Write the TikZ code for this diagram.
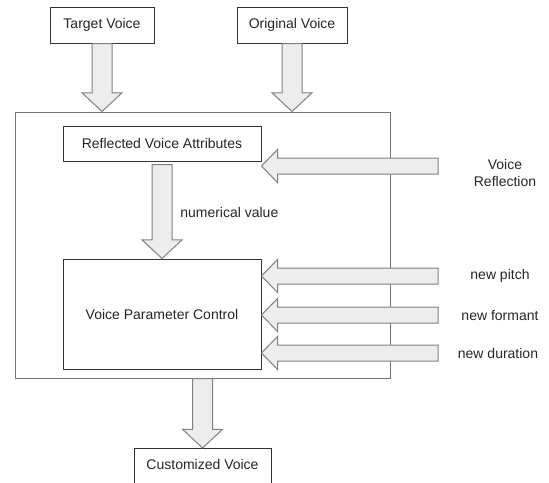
\documentclass[tikz,border=0pt]{standalone}
\usepackage{fontspec}
\setmainfont{Liberation Sans}
\usetikzlibrary{calc}

% block arrows: vertical (shaft 7.5pt, head 15pt, head length 14pt)
\newcommand\blockdown[2]{%
  \draw[blk] let \p1=(#1), \p2=(#2) in
    (\x1-7.5pt,\y1) -- (\x1-7.5pt,\y2+14pt) -- (\x1-15pt,\y2+14pt) -- (\x1,\y2)
    -- (\x1+15pt,\y2+14pt) -- (\x1+7.5pt,\y2+14pt) -- (\x1+7.5pt,\y1) -- cycle;}
% horizontal, pointing left (shaft 6pt, head 12.4pt, head length 12pt)
\newcommand\blockleft[2]{%
  \draw[blk] let \p1=(#1), \p2=(#2) in
    (\x1,\y1+6pt) -- (\x2+12pt,\y1+6pt) -- (\x2+12pt,\y1+12.4pt) -- (\x2,\y1)
    -- (\x2+12pt,\y1-12.4pt) -- (\x2+12pt,\y1-6pt) -- (\x1,\y1-6pt) -- cycle;}

\begin{document}
\begin{tikzpicture}[x=0.75pt,y=-0.75pt,
  box/.style={draw=black!80, line width=0.75pt, inner sep=0pt, align=center},
  blk/.style={draw=black!50, fill=black!7, line width=0.75pt, line join=miter},
  lbl/.style={inner sep=0pt, align=center},
  every node/.style={font=\fontsize{10.5}{13}\selectfont, text=black!85}]
\useasboundingbox (0,0) rectangle (549,482);
\clip (0,0) rectangle (549,482);
\fill[white] (0,0) rectangle (549,482);

% outer frame
\node[draw=black!55, line width=0.75pt, minimum width=281.25pt, minimum height=199.5pt,
      inner sep=0pt] (outer) at (202.5,245) {};

% boxes
\node[box, minimum width=78pt, minimum height=27pt] (tv) at (102,25) {Target Voice};
\node[box, minimum width=82.5pt, minimum height=27pt] (ov) at (292,25) {Original Voice};
\node[box, minimum width=148.5pt, minimum height=26.25pt] (rva) at (162,143.5) {Reflected Voice Attributes};
\node[box, minimum width=148.5pt, minimum height=82.5pt] (vpc) at (162,314) {Voice Parameter Control};
\node[box, anchor=north, minimum width=102.75pt, text height=15.5pt, text depth=20pt]
  (cv) at (202.5,448) {Customized Voice};

% side labels
\node[lbl] (vrl) at (505,173) {Voice\\Reflection};
\node[lbl] (npl) at (500,276) {new pitch};
\node[lbl] (nfl) at (500,315) {new formant};
\node[lbl] (ndl) at (498,353) {new duration};
\node[lbl, anchor=west] (nv) at (180,212) {numerical value};

% free ends of the side arrows
\coordinate (vrs) at (438,166);
\coordinate (nps) at (438,276);
\coordinate (nfs) at (438,315);
\coordinate (nds) at (438,353);

% vertical arrows
\blockdown{tv.south}{tv.south |- outer.north}
\blockdown{ov.south}{ov.south |- outer.north}
\blockdown{$(rva.south)+(0,3)$}{vpc.north}
\blockdown{outer.south}{cv.north}

% horizontal arrows
\blockleft{vrs}{rva.east}
\blockleft{nps}{vpc.east}
\blockleft{nfs}{vpc.east}
\blockleft{nds}{vpc.east}
\end{tikzpicture}
\end{document}
